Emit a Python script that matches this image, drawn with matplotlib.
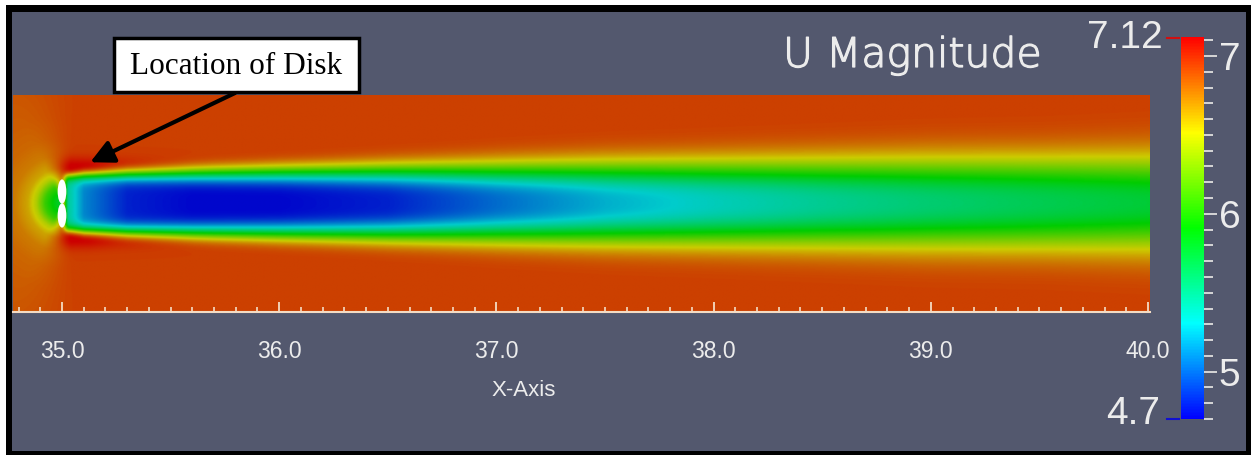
import numpy as np
import matplotlib
matplotlib.use('Agg')  # no display
import matplotlib.pyplot as plt
import matplotlib.patheffects as pe
from matplotlib.colors import LinearSegmentedColormap, Normalize
from matplotlib.cm import ScalarMappable
from matplotlib.patches import Ellipse, Rectangle
from matplotlib.lines import Line2D
from matplotlib.ticker import MultipleLocator, FormatStrFormatter

plt.rcParams['font.family'] = ['Liberation Sans', 'DejaVu Sans']

W, H = 1251, 455

# U magnitude colour range and free stream
u_min, u_max = 4.7, 7.12
u_inf = 6.93

# wake behind the disk: centreline speed, half width (half deficit) and profile sharpness
wake_x = [35.0, 35.1, 35.3, 35.6, 36.0, 36.5, 37.0, 37.5, 38.0, 38.5, 39.0, 39.5, 40.0]
wake_center = [5.6, 5.1, 4.8, 4.72, 4.72, 4.8, 5.02, 5.22, 5.36, 5.48, 5.58, 5.67, 5.75]
wake_halfw = [0.12, 0.125, 0.13, 0.134, 0.138, 0.143, 0.148, 0.155, 0.16, 0.165, 0.17, 0.175, 0.18]
wake_shape = [8.0, 6.0, 5.0, 4.3, 3.8, 3.3, 2.9, 2.7, 2.6, 2.5, 2.4, 2.4, 2.3]

# slow down in front of the disk (distance from disk centre -> deficit)
ind_dist = [0.0, 0.04, 0.08, 0.12, 0.16, 0.22, 0.3, 0.4, 0.55]
ind_deficit = [1.2, 1.05, 0.85, 0.5, 0.3, 0.18, 0.12, 0.09, 0.07]

# speed up around the disk tips
tip_x = [34.92, 34.98, 35.04, 35.12, 35.25, 35.45, 35.7]
tip_gain = [0.0, 0.08, 0.2, 0.19, 0.11, 0.05, 0.0]
tip_r, tip_w = 0.165, 0.045

x_ticks = [35.0, 36.0, 37.0, 38.0, 39.0, 40.0]
cb_ticks = [5, 6, 7]

bg = '#53586e'
txt = '#ececec'
axis_col = '#f4dcc4'


def px_box(x0, y0, x1, y1):
    return [x0 / W, 1 - y1 / H, (x1 - x0) / W, (y1 - y0) / H]


def smooth(t):
    t = np.clip(t, 0, 1)
    return t * t * (3 - 2 * t)


# blue -> cyan -> green -> yellow -> red
rainbow = [(0, 0, 1), (0, 1, 1), (0, 1, 0), (1, 1, 0), (1, 0, 0)]
cmap = LinearSegmentedColormap.from_list('bluered', rainbow)
cmap_lit = LinearSegmentedColormap.from_list('bluered_lit', [tuple(0.8 * v for v in c) for c in rainbow])
norm = Normalize(u_min, u_max)

fig = plt.figure(figsize=(W / 100, H / 100), dpi=100, facecolor='white')
fig.add_artist(Rectangle((6 / W, 0), 1 - 6 / W, 1 - 5 / H, transform=fig.transFigure,
                         fc='black', ec='none', zorder=-20))
fig.add_artist(Rectangle((12 / W, 4 / H), 1234 / W, 439 / H, transform=fig.transFigure,
                         fc=bg, ec='none', zorder=-19))

# field
x_lo, x_hi = 35.0 - 49 / 217.2, 35.0 + 1088 / 217.2
xs = np.linspace(x_lo, x_hi, 1400)
ys = np.linspace(-0.5, 0.5, 500)
X, Y = np.meshgrid(xs, ys)
R = np.abs(Y)
c = np.interp(xs, wake_x, wake_center)
h = np.interp(xs, wake_x, wake_halfw)
n = np.interp(xs, wake_x, wake_shape)
f = np.exp(-np.log(2) * (R / h) ** n)
w_wake = smooth((X - 34.99) / 0.04)
wake = (u_inf - c) * f * w_wake
D = np.hypot(X - 35.0, Y)
cos_up = (35.0 - X) / np.maximum(D, 1e-6)
w_ind = smooth((cos_up + 0.25) / 0.75)
ind = np.interp(D, ind_dist, ind_deficit) * w_ind * (1 - f * w_wake)
boost = np.interp(xs, tip_x, tip_gain) * np.exp(-((R - tip_r) / tip_w) ** 2) * (1 - f)
U = u_inf - wake - ind + boost

ax = fig.add_axes(px_box(13, 95, 1150, 312))
ax.imshow(U, extent=[x_lo, x_hi, -0.5, 0.5], origin='lower', cmap=cmap_lit, norm=norm,
          aspect='auto', interpolation='bilinear')
ax.set_xlim(x_lo, x_hi)
ax.set_ylim(-0.5, 0.5)
ax.set_facecolor(bg)

for yc in (0.055, -0.055):
    ax.add_patch(Ellipse((35.0, yc), 0.04, 0.112, fc='white', ec='none'))

for s in ('top', 'left', 'right'):
    ax.spines[s].set_visible(False)
ax.spines['bottom'].set_color(axis_col)
ax.spines['bottom'].set_linewidth(1.5)
ax.set_yticks([])
ax.set_xticks(x_ticks)
ax.xaxis.set_minor_locator(MultipleLocator(0.1))
ax.xaxis.set_major_formatter(FormatStrFormatter('%.1f'))
ax.tick_params(axis='x', which='major', direction='in', length=7.5, width=1.3, color=axis_col,
               labelsize=16.5, labelcolor=txt, pad=20)
ax.tick_params(axis='x', which='minor', direction='in', length=3.8, width=1.2, color=axis_col)
fig.text(524 / W, 1 - 390 / H, 'X-Axis', ha='center', va='center', fontsize=16, color=txt)

# annotation
fig.add_artist(Rectangle((114 / W, 1 - 92 / H), 245 / W, 54 / H, transform=fig.transFigure,
                         fc='white', ec='black', lw=2.5, zorder=5))
fig.text(236.5 / W, 1 - 66 / H, 'Location of Disk', ha='center', va='center', fontsize=22.5,
         family=['Liberation Serif', 'DejaVu Serif'], color='black', zorder=6)
ax.annotate('', xy=(35.13, 0.19), xycoords='data', xytext=(235 / W, 1 - 93 / H),
            textcoords='figure fraction', annotation_clip=False,
            arrowprops=dict(arrowstyle='-|>,head_length=0.7,head_width=0.35', lw=3, color='black',
                            shrinkA=0, shrinkB=0, mutation_scale=20, clip_on=False))

# colour bar
cax = fig.add_axes(px_box(1181, 37, 1204, 419))
cb = fig.colorbar(ScalarMappable(norm=norm, cmap=cmap), cax=cax)
cb.outline.set_visible(False)
cb.set_ticks(cb_ticks)
cb.ax.yaxis.set_minor_locator(MultipleLocator(0.1))
cb.ax.tick_params(which='major', length=9.5, width=1.4, color='#d6d6d6', labelsize=28,
                  labelcolor=txt, pad=1)
cb.ax.tick_params(which='minor', length=6.5, width=1.4, color='#d6d6d6')

fig.add_artist(Line2D([1167 / W, 1179 / W], [1 - 37.5 / H] * 2, color='#d01010', lw=1.5))
fig.add_artist(Line2D([1167 / W, 1179 / W], [1 - 419 / H] * 2, color='#1010d0', lw=1.5))
fig.text(1163 / W, 1 - 38 / H, '7.12', ha='right', va='center', fontsize=28, color=txt)
fig.text(1160 / W, 1 - 414 / H, '4.7', ha='right', va='center', fontsize=28, color=txt)
fig.text(783 / W, 1 - 67 / H, 'U Magnitude', ha='left', va='baseline', fontsize=29.5,
         family=['DejaVu Sans'], fontweight=200, color=txt,
         path_effects=[pe.withStroke(linewidth=0.9, foreground=txt)])

fig.savefig('out.png', dpi=100, facecolor='white')
